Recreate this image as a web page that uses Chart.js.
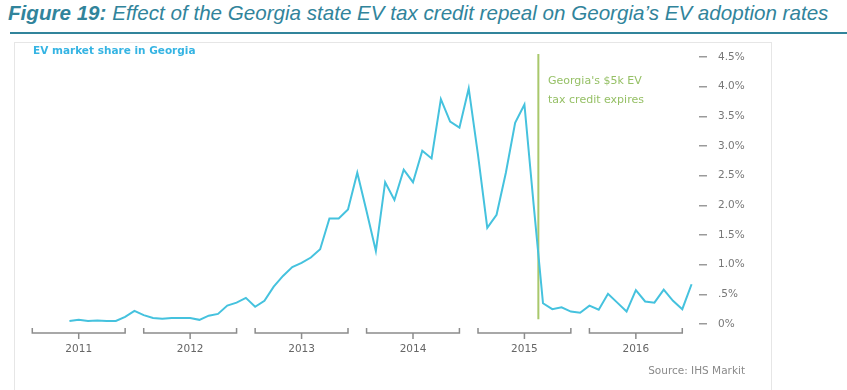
<!DOCTYPE html>
<html>
<head>
<meta charset="utf-8">
<script src="https://cdn.jsdelivr.net/npm/chart.js@4"></script>
<style>
  body { margin: 0; width: 847px; height: 390px; overflow: hidden; background: #fff; }
  #title { position: absolute; left: 8px; top: 1px; font-family: "Liberation Sans", sans-serif; font-style: italic; font-size: 20.6px; color: #31849B; white-space: nowrap; }
  #title b { font-weight: bold; }
  #rule { position: absolute; left: 10px; right: 0; top: 32px; height: 2px; background: #31849B; }
  #frame { position: absolute; left: 14px; top: 42px; width: 756px; height: 360px; border: 1px solid #e6e6e6; }
  #wrap { position: absolute; left: 0; top: 0; width: 847px; height: 390px; }
  .txt { position: absolute; font-family: "DejaVu Sans", sans-serif; white-space: nowrap; }
  #series { left: 33px; top: 44px; font-size: 10.5px; font-weight: bold; color: #35b4e3; }
  #note { left: 548px; top: 71px; font-size: 11px; line-height: 19px; color: #96c066; }
  #source { right: 102px; top: 364px; font-size: 10.5px; color: #8a8a8a; }
</style>
</head>
<body>
<div id="title"><b>Figure 19:</b> Effect of the Georgia state EV tax credit repeal on Georgia’s EV adoption rates</div>
<div id="rule"></div>
<div id="frame"></div>
<div id="wrap"><canvas id="chart" width="847" height="390"></canvas></div>
<div class="txt" id="series">EV market share in Georgia</div>
<div class="txt" id="note">Georgia's $5k EV<br>tax credit expires</div>
<div class="txt" id="source">Source: IHS Markit</div>
<script>
// months are counted from Jan 2011 (0); the series starts in June 2011
const yearLabels = ['2011', '2012', '2013', '2014', '2015', '2016'];
const firstMonth = 5;
const marketShare = [
  0.05, 0.07, 0.05, 0.06, 0.05, 0.05, 0.12,                         // 2011
  0.22, 0.15, 0.10, 0.09, 0.10, 0.10, 0.10, 0.07, 0.14, 0.17, 0.31, 0.36, // 2012
  0.44, 0.29, 0.39, 0.63, 0.81, 0.96, 1.03, 1.12, 1.26, 1.78, 1.78, 1.93, // 2013
  2.55, 1.90, 1.23, 2.39, 2.09, 2.60, 2.39, 2.92, 2.79, 3.79, 3.41, 3.31, // 2014
  3.97, 2.85, 1.62, 1.84, 2.55, 3.39, 3.70, 2.00, 0.35, 0.25, 0.28, 0.21, // 2015
  0.19, 0.31, 0.24, 0.51, 0.36, 0.21, 0.57, 0.38, 0.36, 0.58, 0.39, 0.25, // 2016
  0.67
];
const shareTicks = [0, 0.5, 1, 1.5, 2, 2.5, 3, 3.5, 4, 4.5];
const shareTickLabels = ['0%', '.5%', '1.0%', '1.5%', '2.0%', '2.5%', '3.0%', '3.5%', '4.0%', '4.5%'];
const creditExpiry = 55.5; // mid-July 2015

const points = marketShare.map((v, i) => ({ x: firstMonth + i, y: v }));

const extras = {
  id: 'extras',
  beforeDatasetsDraw(chart) {
    const { ctx, scales: { x, y } } = chart;
    const ex = x.getPixelForValue(creditExpiry);
    ctx.save();
    ctx.strokeStyle = '#a9c86c';
    ctx.lineWidth = 2;
    ctx.beginPath();
    ctx.moveTo(ex, y.getPixelForValue(4.55));
    ctx.lineTo(ex, y.getPixelForValue(0.08));
    ctx.stroke();
    ctx.restore();
  },
  afterDraw(chart) {
    const { ctx, chartArea, scales: { x } } = chart;
    const by = chartArea.bottom + 9;
    ctx.save();
    ctx.strokeStyle = '#8c8c8c';
    ctx.lineWidth = 1.5;
    ctx.beginPath();
    yearLabels.forEach((lab, i) => {
      const x1 = x.getPixelForValue(12 * i + 1);
      const x2 = x.getPixelForValue(12 * i + 11);
      const xc = x.getPixelForValue(12 * i + 6);
      ctx.moveTo(x1, by - 5);
      ctx.lineTo(x1, by);
      ctx.lineTo(x2, by);
      ctx.lineTo(x2, by - 5);
      ctx.moveTo(xc, by);
      ctx.lineTo(xc, by + 6);
    });
    ctx.stroke();
    ctx.restore();
  }
};

new Chart(document.getElementById('chart'), {
  type: 'line',
  data: {
    datasets: [{
      label: 'EV market share in Georgia',
      data: points,
      borderColor: '#45c2de',
      borderWidth: 2,
      pointRadius: 0,
      tension: 0,
      fill: false
    }]
  },
  options: {
    responsive: false,
    animation: false,
    layout: { padding: { left: 23, top: 57, right: 0, bottom: 0 } },
    plugins: { legend: { display: false }, tooltip: { enabled: false } },
    scales: {
      x: {
        type: 'linear',
        min: 0,
        max: 72.8,
        afterBuildTicks: (scale) => { scale.ticks = yearLabels.map((y, i) => ({ value: 12 * i + 6 })); },
        afterFit: (scale) => { scale.height = 66; },
        grid: { display: false, drawTicks: false },
        border: { display: false },
        ticks: {
          autoSkip: false,
          maxRotation: 0,
          padding: 19,
          color: '#666',
          font: { family: 'DejaVu Sans', size: 10.5 },
          callback: (v, i) => yearLabels[i]
        }
      },
      y: {
        position: 'right',
        min: 0,
        max: 4.5,
        afterBuildTicks: (scale) => { scale.ticks = shareTicks.map(v => ({ value: v })); },
        afterFit: (scale) => { scale.width = 148; },
        grid: { drawOnChartArea: false, drawTicks: true, tickLength: 8, color: '#9a9a9a', lineWidth: 1.5 },
        border: { display: false },
        ticks: {
          padding: 11,
          color: '#777',
          font: { family: 'DejaVu Sans', size: 10.5 },
          callback: (v, i) => shareTickLabels[i]
        }
      }
    }
  },
  plugins: [extras]
});
</script>
</body>
</html>
